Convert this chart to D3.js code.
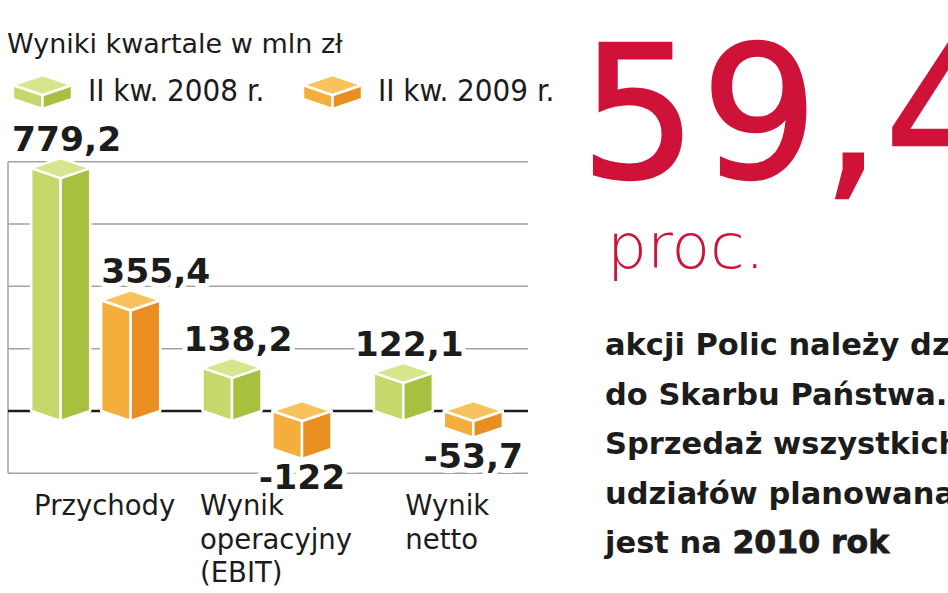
<!DOCTYPE html>
<html><head><meta charset="utf-8">
<script src="https://cdn.jsdelivr.net/npm/d3@7"></script>
<style>body{margin:0;background:#fff}svg{display:block}</style>
</head><body>
<svg id="chart" width="948" height="593"></svg>
<script>
// ---------- data ----------
const title = "Wyniki kwartale w mln zł";
const categories = ["Przychody", "Wynik\noperacyjny\n(EBIT)", "Wynik\nnetto"];
const seriesNames = ["II kw. 2008 r.", "II kw. 2009 r."];
const values2008 = [779.2, 138.2, 122.1];
const values2009 = [355.4, -122, -53.7];
const yTicks = [-200, 0, 200, 400, 600, 800];
const bigNumber = "59,4";
const bigUnit = "proc.";
const noteLines = ["akcji Polic należy dziś", "do Skarbu Państwa.", "Sprzedaż wszystkich", "udziałów planowana", "jest na "];
const noteBold = "2010 rok";

// ---------- styles ----------
const palette = [
  {left: "#c4d86b", right: "#a8c03f", top: "#d6e68e"},
  {left: "#f4ae3b", right: "#e98e20", top: "#f8c35c"}
];
const red = "#cf1238";
const ink = "#1c1c1c";
const FONT = "'DejaVu Sans', sans-serif";
const FONT_COND = "'DejaVu Sans Condensed', 'DejaVu Sans', sans-serif";

const locale = d3.formatLocale({decimal: ",", thousands: " ", grouping: [3], currency: ["", " zł"], minus: "-"});
const fmt = locale.format(".1~f");

const svg = d3.select("#chart");
svg.append("rect").attr("width", 948).attr("height", 593).attr("fill", "#fff");

const plotLeft = 8, plotRight = 528;
const y = d3.scaleLinear().domain([-200, 800]).range([473.3, 161.7]);
const x0 = d3.scaleBand().domain(categories).range([10, 524]).padding(0);
const x1 = d3.scaleBand().domain(seriesNames).range([0, x0.bandwidth()]).paddingInner(0.157).paddingOuter(0.302);
const depth = 10;

const rows = categories.map((c, i) => ({cat: c, vals: [values2008[i], values2009[i]]}));

// ---------- grid ----------
const grid = svg.append("g");
grid.selectAll("line.g").data(yTicks.filter(t => t !== 0)).join("line")
  .attr("x1", plotLeft).attr("x2", plotRight)
  .attr("y1", d => y(d)).attr("y2", d => y(d))
  .attr("stroke", "#a3a3a3").attr("stroke-width", 1.5);
grid.append("line")
  .attr("x1", plotLeft).attr("x2", plotLeft)
  .attr("y1", y(d3.max(yTicks))).attr("y2", y(d3.min(yTicks)))
  .attr("stroke", "#a3a3a3").attr("stroke-width", 1.5);
grid.append("line")
  .attr("x1", plotLeft).attr("x2", plotRight)
  .attr("y1", y(0)).attr("y2", y(0))
  .attr("stroke", ink).attr("stroke-width", 2.6);

// ---------- 3D boxes ----------
function drawBox(g, xL, w, yT, yB, d, col) {
  const xC = xL + w / 2, xR = xL + w;
  const common = sel => sel.attr("stroke", "#fff").attr("stroke-width", 2.5).attr("stroke-linejoin", "round");
  g.append("path").attr("d", `M${xL},${yT}L${xC},${yT + d}L${xC},${yB + d}L${xL},${yB}Z`).attr("fill", col.left).call(common);
  g.append("path").attr("d", `M${xC},${yT + d}L${xR},${yT}L${xR},${yB}L${xC},${yB + d}Z`).attr("fill", col.right).call(common);
  g.append("path").attr("d", `M${xL},${yT}L${xC},${yT - d}L${xR},${yT}L${xC},${yT + d}Z`).attr("fill", col.top).call(common);
}

const bars = [];
rows.forEach(r => {
  r.vals.forEach((v, si) => {
    const xL = x0(r.cat) + x1(seriesNames[si]);
    bars.push({v, si, xL, w: x1.bandwidth(), cat: r.cat});
  });
});

const barG = svg.append("g");
bars.forEach(b => {
  drawBox(barG, b.xL, b.w, y(Math.max(0, b.v)), y(Math.min(0, b.v)), depth, palette[b.si]);
});

// ---------- value labels ----------
const labelG = svg.append("g");
const valSize = 34.5;
bars.forEach((b, i) => {
  const t = labelG.append("text")
    .attr("font-family", FONT).attr("font-weight", "bold").attr("font-size", valSize)
    .attr("fill", ink).attr("text-anchor", "middle")
    .attr("paint-order", "stroke").attr("stroke", "#fff").attr("stroke-width", 10).attr("stroke-linejoin", "round")
    .text(fmt(b.v));
  const w = t.node().getComputedTextLength();
  const cx = b.xL + b.w / 2;
  if (b.v >= 0) {
    let lx = cx + 6;
    if (i > 0) {
      const prevRight = bars[i - 1].xL + bars[i - 1].w;
      if (lx - w / 2 < prevRight + 11) lx = prevRight + 11 + w / 2;
    }
    t.attr("x", lx).attr("y", y(b.v) - depth - 7);
  } else {
    t.attr("x", cx).attr("y", y(b.v) + depth + valSize * 0.729 + 5);
  }
});

// ---------- category labels ----------
const catSize = 27.5;
categories.forEach(c => {
  const lines = c.split("\n");
  const t = svg.append("text").attr("font-family", FONT).attr("font-size", catSize).attr("fill", ink);
  lines.forEach((ln, k) => t.append("tspan").attr("x", 0).attr("y", 515 + k * 33.5).text(ln));
  const w = t.node().getBBox().width;
  const left = x0(c) + x0.bandwidth() / 2 + 9 - w / 2;
  t.selectAll("tspan").attr("x", left);
});

// ---------- title & legend ----------
svg.append("text").attr("x", 7).attr("y", 53.3)
  .attr("font-family", FONT).attr("font-size", 27).attr("fill", ink).text(title);

const legend = svg.append("g");
seriesNames.forEach((s, i) => {
  const gx = 13 + i * 290;
  drawBox(legend, gx, 59, 85, 99, 10, palette[i]);
  legend.append("text").attr("x", gx + 75).attr("y", 101)
    .attr("font-family", FONT_COND)
    .attr("font-size", 31).attr("fill", ink).text(s);
});

// ---------- right panel ----------
svg.append("text").attr("x", 580).attr("y", 176.7)
  .attr("font-family", FONT).attr("font-size", 184).attr("letter-spacing", 4)
  .attr("fill", red).attr("stroke", red).attr("stroke-width", 2.5).text(bigNumber);
svg.append("text").attr("x", 607).attr("y", 268)
  .attr("font-family", FONT).attr("font-weight", 200).attr("font-size", 63).attr("fill", red).text(bigUnit);

const note = svg.append("g");
noteLines.forEach((ln, k) => {
  const t = note.append("text").attr("x", 605).attr("y", 355 + k * 49.5)
    .attr("font-family", FONT).attr("font-weight", "bold").attr("font-size", 30.5).attr("fill", ink)
    .attr("xml:space", "preserve");
  t.append("tspan").text(ln);
  if (k === noteLines.length - 1) {
    t.append("tspan").attr("font-size", 31.5).attr("stroke", ink).attr("stroke-width", 0.8).text(noteBold);
  }
});
</script>
</body></html>
